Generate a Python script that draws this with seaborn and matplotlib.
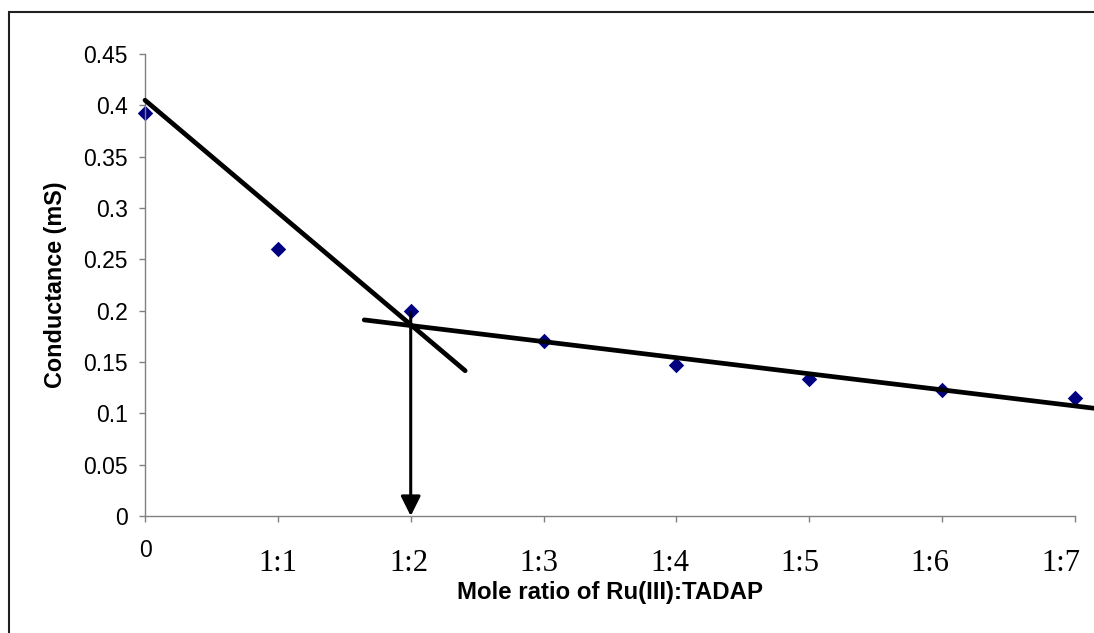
import matplotlib
matplotlib.use("Agg")
import matplotlib.pyplot as plt
import matplotlib.patches as mpatches
import numpy as np
import pandas as pd
import seaborn as sns

# Conductometric titration data
tick_labels = ["0", "1:1", "1:2", "1:3", "1:4", "1:5", "1:6", "1:7"]
mole_ratio = [0, 1, 2, 3, 4, 5, 6, 7]
conductance = [0.393, 0.26, 0.2, 0.17, 0.147, 0.133, 0.123, 0.115]

# Straight-line fits of the two branches and the end point they meet at
fit1_x = [0.0, 2.41]
fit1_y = [0.405, 0.1415]
fit2_x = [1.65, 7.14]
fit2_y = [0.191, 0.105]
end_point_x = 2
end_point_top = 0.198

y_ticks = [0, 0.05, 0.1, 0.15, 0.2, 0.25, 0.3, 0.35, 0.4, 0.45]

sns.set_style("ticks")
plt.rcParams["font.family"] = ["Liberation Sans", "DejaVu Sans"]
plt.rcParams["text.color"] = "black"
plt.rcParams["axes.labelcolor"] = "black"
plt.rcParams["xtick.labelcolor"] = "black"
plt.rcParams["ytick.labelcolor"] = "black"

W, H = 1094, 633
fig = plt.figure(figsize=(W / 100, H / 100), dpi=100)
ax = fig.add_axes([145 / W, 117 / H, 930 / W, 462 / H])

df = pd.DataFrame({"ratio": mole_ratio, "cond": conductance})
sns.scatterplot(data=df, x="ratio", y="cond", marker="D", color="#000080",
                s=62, linewidth=0, ax=ax, zorder=2, clip_on=False)

for fx, fy in [(fit1_x, fit1_y), (fit2_x, fit2_y)]:
    sns.lineplot(x=fx, y=fy, color="black", linewidth=3.4, ax=ax,
                 zorder=3, clip_on=False, estimator=None, sort=False)

ax.annotate("", xy=(end_point_x, 0), xytext=(end_point_x, end_point_top),
            arrowprops=dict(arrowstyle="-|>,head_length=0.6,head_width=0.3",
                            color="black", lw=2.2, mutation_scale=20,
                            shrinkA=0, shrinkB=0),
            annotation_clip=False, zorder=4)

ax.set_xlim(0, 7)
ax.set_ylim(0, 0.45)
ax.set_yticks(y_ticks)
ax.set_yticklabels([f"{v:g}" for v in y_ticks])
ax.set_xticks(mole_ratio)
ax.set_xticklabels([])

# Category labels under the axis: the origin in sans, the ratios in serif,
# the ratio labels laid out on a slightly tighter pitch than the ticks
for i, (pos, lab) in enumerate(zip(mole_ratio, tick_labels)):
    if i == 0:
        ax.annotate(lab, xy=(pos, 0), xycoords=("data", "axes fraction"),
                    xytext=(0, -29.5), textcoords="offset points",
                    ha="center", va="baseline", fontsize=16.5,
                    family="Liberation Sans", color="black", annotation_clip=False)
    else:
        ax.annotate(lab, xy=(pos, 0), xycoords=("data", "axes fraction"),
                    xytext=((3 - 2.5 * i) * 0.72, -39.6), textcoords="offset points",
                    ha="center", va="baseline", fontsize=22,
                    family="Liberation Serif", color="black", annotation_clip=False)

for side in ["top", "right"]:
    ax.spines[side].set_visible(False)
for side in ["left", "bottom"]:
    ax.spines[side].set_color("#808080")
    ax.spines[side].set_linewidth(1.0)
ax.tick_params(axis="y", direction="out", length=4.5, width=1, color="#808080",
               labelsize=16.5, pad=8, labelcolor="black")
ax.tick_params(axis="x", direction="out", length=4, width=1, color="#808080")

ax.set_xlabel("Mole ratio of Ru(III):TADAP", fontsize=17.3, fontweight="bold", color="black")
ax.set_ylabel("Conductance (mS)", fontsize=16.8, fontweight="bold", color="black")
ax.xaxis.set_label_coords(0.5, -(581 - 516) / 462)
ax.yaxis.set_label_coords((67 - 145) / 930, 0.5)

# Chart frame
fig.patches.append(mpatches.Rectangle((9 / W, -0.1), 2, (H - 12) / H + 0.1,
                                      transform=fig.transFigure, fill=False,
                                      edgecolor="#202020", linewidth=1.5))

fig.savefig("out.png", dpi=100)
